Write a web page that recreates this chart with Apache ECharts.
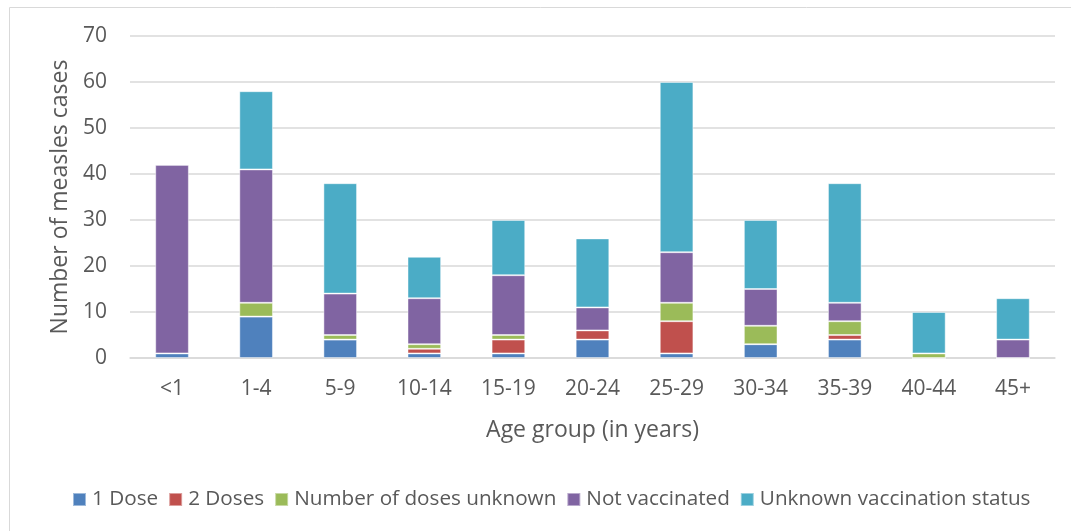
<!DOCTYPE html>
<html><head><meta charset="utf-8">
<script src="https://cdn.jsdelivr.net/npm/echarts@6/dist/echarts.min.js"></script>
<style>html,body{margin:0;padding:0;background:#fff}#c{width:1071px;height:531px}</style>
</head><body><div id="c"></div>
<script>
const categories = ['<1','1-4','5-9','10-14','15-19','20-24','25-29','30-34','35-39','40-44','45+'];
const oneDose        = [1, 9, 4, 1, 1, 4, 1, 3, 4, 0, 0];
const twoDoses       = [0, 0, 0, 1, 3, 2, 7, 0, 1, 0, 0];
const dosesUnknown   = [0, 3, 1, 1, 1, 0, 4, 4, 3, 1, 0];
const notVaccinated  = [41, 29, 9, 10, 13, 5, 11, 8, 4, 0, 4];
const unknownStatus  = [0, 17, 24, 9, 12, 15, 37, 15, 26, 9, 9];
const yTicks = [0, 10, 20, 30, 40, 50, 60, 70];

const names = ['1 Dose','2 Doses','Number of doses unknown','Not vaccinated','Unknown vaccination status'];
const colors = ['#4F81BD','#C0504D','#9BBB59','#8064A2','#4BACC6'];
const datasets = [oneDose, twoDoses, dosesUnknown, notVaccinated, unknownStatus];
const font = 'Open Sans, Noto Sans, sans-serif';

const chart = echarts.init(document.getElementById('c'));
chart.setOption({
  animation: false,
  color: colors,
  graphic: [{
    type: 'rect', shape: {x: 9.5, y: 7.5, width: 1200, height: 700},
    style: {fill: 'none', stroke: '#D9D9D9', lineWidth: 1}, silent: true
  }],
  grid: {left: 130, right: 16, top: 36, bottom: 173},
  legend: {
    data: names, top: 484, left: 67, itemWidth: 13, itemHeight: 13, itemGap: 10,
    icon: 'rect',
    textStyle: {fontFamily: font, fontSize: 20.7, color: '#595959', padding: [0, 0, 0, 1]}
  },
  xAxis: {
    type: 'category', data: categories,
    axisLine: {lineStyle: {color: '#D9D9D9', width: 1.5}},
    axisTick: {show: false},
    axisLabel: {fontFamily: font, fontSize: 21, color: '#595959', margin: 21},
    name: 'Age group (in years)', nameLocation: 'middle', nameGap: 61,
    nameTextStyle: {fontFamily: font, fontSize: 23, color: '#595959'}
  },
  yAxis: {
    type: 'value', min: yTicks[0], max: yTicks[yTicks.length - 1], interval: 10,
    axisLine: {show: false}, axisTick: {show: false},
    splitLine: {lineStyle: {color: '#D9D9D9', width: 1.5}},
    axisLabel: {fontFamily: font, fontSize: 21, color: '#595959', margin: 23},
    name: 'Number of measles cases', nameLocation: 'middle', nameGap: 56,
    nameTextStyle: {fontFamily: font, fontSize: 23, color: '#595959'}
  },
  series: datasets.map((d, i) => ({
    name: names[i], type: 'bar', stack: 'total', data: d, barWidth: '40%',
    itemStyle: {color: colors[i], borderColor: 'rgba(255,255,255,0.45)', borderWidth: 1}
  }))
});
</script></body></html>
